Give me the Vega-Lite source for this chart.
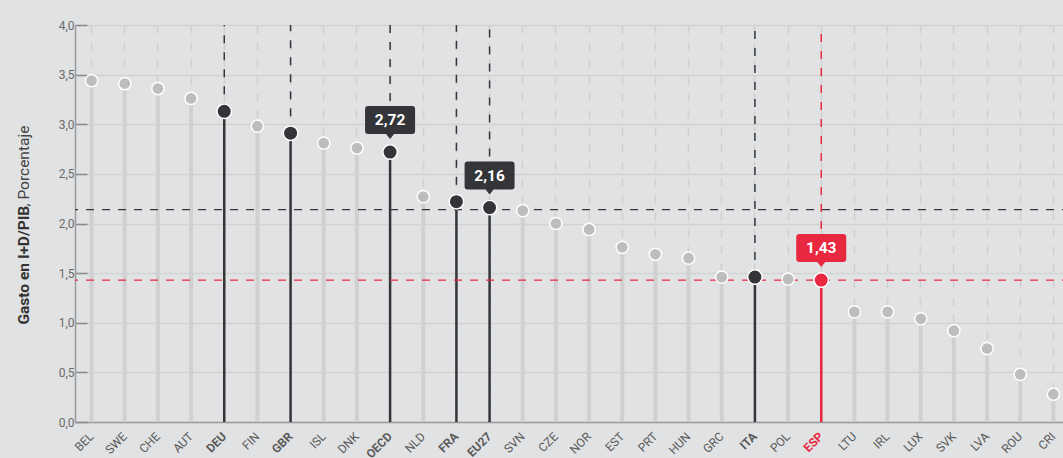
{
  "$schema": "https://vega.github.io/schema/vega-lite/v6.json",
  "width": 995,
  "height": 397,
  "autosize": {"type": "none"},
  "padding": {"left": 75, "top": 25, "right": 0, "bottom": 36},
  "background": "#e1e2e3",
  "config": {
    "view": {"stroke": null},
    "font": "Roboto",
    "locale": {"number": {"decimal": ",", "thousands": ".", "grouping": [3], "currency": ["", " €"]}}
  },
  "data": {
    "values": [
      {"pais": "BEL", "valor": 3.44, "grupo": "gris"},
      {"pais": "SWE", "valor": 3.41, "grupo": "gris"},
      {"pais": "CHE", "valor": 3.36, "grupo": "gris"},
      {"pais": "AUT", "valor": 3.26, "grupo": "gris"},
      {"pais": "DEU", "valor": 3.13, "grupo": "destacado"},
      {"pais": "FIN", "valor": 2.98, "grupo": "gris"},
      {"pais": "GBR", "valor": 2.91, "grupo": "destacado"},
      {"pais": "ISL", "valor": 2.81, "grupo": "gris"},
      {"pais": "DNK", "valor": 2.76, "grupo": "gris"},
      {"pais": "OECD", "valor": 2.72, "grupo": "destacado", "etiqueta": true},
      {"pais": "NLD", "valor": 2.27, "grupo": "gris"},
      {"pais": "FRA", "valor": 2.22, "grupo": "destacado"},
      {"pais": "EU27", "valor": 2.16, "grupo": "destacado", "etiqueta": true},
      {"pais": "SVN", "valor": 2.13, "grupo": "gris"},
      {"pais": "CZE", "valor": 2.0, "grupo": "gris"},
      {"pais": "NOR", "valor": 1.94, "grupo": "gris"},
      {"pais": "EST", "valor": 1.76, "grupo": "gris"},
      {"pais": "PRT", "valor": 1.69, "grupo": "gris"},
      {"pais": "HUN", "valor": 1.65, "grupo": "gris"},
      {"pais": "GRC", "valor": 1.46, "grupo": "gris"},
      {"pais": "ITA", "valor": 1.46, "grupo": "destacado"},
      {"pais": "POL", "valor": 1.44, "grupo": "gris"},
      {"pais": "ESP", "valor": 1.43, "grupo": "espana", "etiqueta": true},
      {"pais": "LTU", "valor": 1.11, "grupo": "gris"},
      {"pais": "IRL", "valor": 1.11, "grupo": "gris"},
      {"pais": "LUX", "valor": 1.04, "grupo": "gris"},
      {"pais": "SVK", "valor": 0.92, "grupo": "gris"},
      {"pais": "LVA", "valor": 0.74, "grupo": "gris"},
      {"pais": "ROU", "valor": 0.48, "grupo": "gris"},
      {"pais": "CRI", "valor": 0.28, "grupo": "gris"}
    ]
  },
  "resolve": {"axis": {"y": "independent"}},
  "layer": [
    {
      "mark": {"type": "rule", "strokeWidth": 4, "color": "#d0d0d0"},
      "transform": [{"filter": "datum.grupo === 'gris'"}],
      "encoding": {
        "x": {
          "field": "pais", "type": "nominal", "sort": null,
          "scale": {
            "domain": ["BEL", "SWE", "CHE", "AUT", "DEU", "FIN", "GBR", "ISL", "DNK", "OECD", "NLD", "FRA", "EU27", "SVN", "CZE", "NOR", "EST", "PRT", "HUN", "GRC", "ITA", "POL", "ESP", "LTU", "IRL", "LUX", "SVK", "LVA", "ROU", "CRI"],
            "paddingInner": 0, "paddingOuter": 0
          },
          "axis": {
            "title": null,
            "ticks": false,
            "domainColor": "#9a9a9a",
            "domainWidth": 1.5,
            "labelAngle": -45,
            "labelAlign": "right",
            "labelBaseline": "middle",
            "labelPadding": 12,
            "labelFontSize": 12,
            "labelColor": {"condition": {"test": "datum.value === 'ESP'", "value": "#e8283f"}, "value": "#5a5a5a"},
            "labelFontWeight": {"condition": {"test": "indexof(['DEU','GBR','OECD','FRA','EU27','ITA','ESP'], datum.value) >= 0", "value": "bold"}, "value": "normal"},
            "grid": true,
            "bandPosition": 0.5,
            "gridColor": "#cfcfcf",
            "gridWidth": 1.5,
            "gridDash": [8, 9]
          }
        },
        "y": {
          "field": "valor", "type": "quantitative",
          "scale": {"domain": [0, 4], "nice": false},
          "axis": {
            "title": "Gasto en I+D/PIB",
            "titleFontWeight": "bold",
            "titleFontSize": 15.5,
            "titleColor": "#333333",
            "titleAngle": 270,
            "titleAlign": "left",
            "titleBaseline": "alphabetic",
            "titleX": -47,
            "titleY": 299,
            "values": [0, 0.5, 1, 1.5, 2, 2.5, 3, 3.5, 4],
            "format": ".1f",
            "labelFontSize": 12,
            "labelColor": "#6a6a6a",
            "labelPadding": 13,
            "tickSize": -12,
            "tickColor": "#8a8a8a",
            "tickWidth": 1.5,
            "domainColor": "#9a9a9a",
            "domainWidth": 1.5,
            "gridColor": "#d2d2d2",
            "gridWidth": 1.5
          }
        },
        "y2": {"datum": 0}
      }
    },
    {
      "mark": {"type": "rule", "strokeWidth": 1.5, "strokeDash": [8, 9]},
      "transform": [{"filter": "datum.grupo !== 'gris'"}],
      "encoding": {
        "x": {"field": "pais", "type": "nominal", "sort": null},
        "y": {"field": "valor", "type": "quantitative", "axis": null},
        "y2": {"datum": 4},
        "color": {"field": "grupo", "type": "nominal", "scale": {"domain": ["gris", "destacado", "espana"], "range": ["#bdbdbd", "#333538", "#e8283f"]}, "legend": null}
      }
    },
    {
      "mark": {"type": "rule", "strokeWidth": 2.5},
      "transform": [{"filter": "datum.grupo !== 'gris'"}],
      "encoding": {
        "x": {"field": "pais", "type": "nominal", "sort": null},
        "y": {"field": "valor", "type": "quantitative", "axis": null},
        "y2": {"datum": 0},
        "color": {"field": "grupo", "type": "nominal", "legend": null}
      }
    },
    {
      "data": {"values": [{"ref": 2.14, "grupo": "destacado"}, {"ref": 1.43, "grupo": "espana"}]},
      "mark": {"type": "rule", "strokeWidth": 1.2, "strokeDash": [8, 8]},
      "encoding": {
        "y": {"field": "ref", "type": "quantitative", "axis": null},
        "color": {"field": "grupo", "type": "nominal", "legend": null}
      }
    },
    {
      "mark": {"type": "point", "filled": true, "opacity": 1, "stroke": "white", "strokeWidth": 1.5},
      "encoding": {
        "x": {"field": "pais", "type": "nominal", "sort": null},
        "y": {
          "field": "valor", "type": "quantitative",
          "axis": {
            "orient": "left",
            "title": ", Porcentaje",
            "titleFontWeight": "normal",
            "titleFontSize": 15.5,
            "titleColor": "#444444",
            "titleAngle": 270,
            "titleAlign": "left",
            "titleBaseline": "alphabetic",
            "titleX": -47,
            "titleY": 181,
            "labels": false,
            "ticks": false,
            "domain": false,
            "grid": false
          }
        },
        "color": {"field": "grupo", "type": "nominal", "legend": null},
        "size": {"condition": {"test": "datum.grupo === 'gris'", "value": 150}, "value": 210}
      }
    },
    {
      "mark": {"type": "point", "filled": true, "opacity": 1, "size": 2500, "yOffset": -32, "shape": "M-0.88,-0.56 L0.88,-0.56 Q1,-0.56 1,-0.44 L1,0.44 Q1,0.56 0.88,0.56 L0.16,0.56 L0,0.76 L-0.16,0.56 L-0.88,0.56 Q-1,0.56 -1,0.44 L-1,-0.44 Q-1,-0.56 -0.88,-0.56 Z"},
      "transform": [{"filter": "datum.etiqueta === true"}],
      "encoding": {
        "x": {"field": "pais", "type": "nominal", "sort": null},
        "y": {"field": "valor", "type": "quantitative", "axis": null},
        "color": {"field": "grupo", "type": "nominal", "legend": null}
      }
    },
    {
      "mark": {"type": "text", "color": "white", "fontWeight": "bold", "fontSize": 15.5, "yOffset": -32, "baseline": "middle", "align": "center"},
      "transform": [{"filter": "datum.etiqueta === true"}],
      "encoding": {
        "x": {"field": "pais", "type": "nominal", "sort": null},
        "y": {"field": "valor", "type": "quantitative", "axis": null},
        "text": {"field": "valor", "type": "quantitative", "format": ".2f"}
      }
    }
  ]
}
